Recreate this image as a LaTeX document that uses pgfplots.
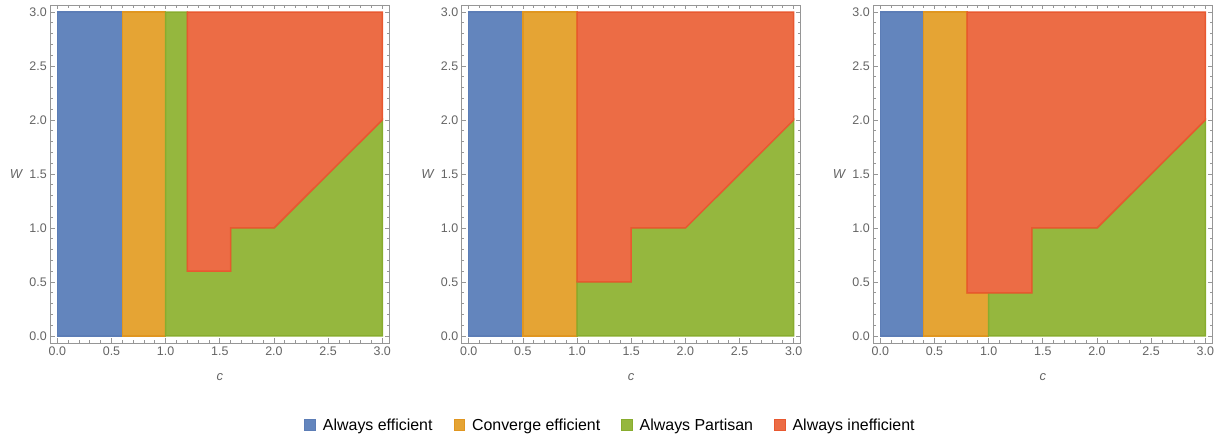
\documentclass[border=0pt]{standalone}
\usepackage{pgfplots}
\pgfplotsset{compat=1.18}
\usepackage{fontspec}
\setmainfont{Liberation Sans}
\definecolor{bluef}{RGB}{99,133,189}
\definecolor{blued}{RGB}{92,125,182}
\definecolor{orangef}{RGB}{229,164,52}
\definecolor{oranged}{RGB}{224,150,32}
\definecolor{greenf}{RGB}{149,183,62}
\definecolor{greend}{RGB}{136,172,46}
\definecolor{redf}{RGB}{236,108,69}
\definecolor{redd}{RGB}{232,88,48}
\definecolor{framec}{RGB}{150,150,150}
\definecolor{labelc}{RGB}{100,100,100}

\pgfplotsset{
  panel/.style={
    scale only axis, width=339bp, height=338bp, anchor=south west,
    xmin=-0.065, xmax=3.065, ymin=-0.065, ymax=3.065,
    xtick={0,0.5,...,3}, ytick={0,0.5,...,3},
    minor tick num=4, tick pos=both, tick align=inside,
    major tick length=4.5bp, minor tick length=2.6bp,
    axis line style={framec, line width=0.8bp},
    every tick/.style={framec, line width=0.7bp},
    /pgf/number format/assume math mode=true,
    /pgf/number format/.cd, fixed, fixed zerofill, precision=1, /pgfplots/.cd,
    tick label style={font=\fontsize{12.5}{14}\selectfont, text=labelc},
    xlabel={c}, ylabel={W},
    label style={font=\fontsize{13}{15}\selectfont\itshape, text=labelc},
    x label style={at={(axis description cs:0.5,-0.1006)}, anchor=center},
    y label style={at={(axis description cs:-0.101,0.5)}, anchor=center, rotate=-90},
  },
  reg/.style={line width=1.5bp, line join=miter},
}

\begin{document}
\begin{tikzpicture}[x=1bp,y=1bp]
\useasboundingbox (0,0) rectangle (1224,438);

% panel 1
\begin{axis}[panel, at={(50.3bp,95bp)}]
\addplot[reg, fill=bluef, draw=blued] coordinates {(0,0) (0.6,0) (0.6,3) (0,3)} -- cycle;
\addplot[reg, fill=orangef, draw=oranged] coordinates {(0.6,0) (1,0) (1,3) (0.6,3)} -- cycle;
\addplot[reg, fill=greenf, draw=greend] coordinates {(1,0) (3,0) (3,2) (2,1) (1.6,1) (1.6,0.6) (1.2,0.6) (1.2,3) (1,3)} -- cycle;
\addplot[reg, fill=redf, draw=redd] coordinates {(1.2,0.6) (1.6,0.6) (1.6,1) (2,1) (3,2) (3,3) (1.2,3)} -- cycle;
\end{axis}

% panel 2
\begin{axis}[panel, at={(461.7bp,95bp)},
  legend columns=4,
  legend style={at={(0.439,-0.2426)}, anchor=center, draw=none, fill=none,
    font=\fontsize{16}{18}\selectfont, text=black,
    /tikz/every even column/.append style={column sep=19bp},
    /tikz/every odd column/.append style={column sep=5bp}},
  legend image code/.code={\draw[#1,line width=0.8bp] (0bp,-5.3bp) rectangle (10.7bp,5.3bp);},
]
\addplot[reg, fill=bluef, draw=blued] coordinates {(0,0) (0.5,0) (0.5,3) (0,3)} -- cycle;
\addlegendentry{Always efficient}
\addplot[reg, fill=orangef, draw=oranged] coordinates {(0.5,0) (1,0) (1,3) (0.5,3)} -- cycle;
\addlegendentry{Converge efficient}
\addplot[reg, fill=greenf, draw=greend] coordinates {(1,0) (3,0) (3,2) (2,1) (1.5,1) (1.5,0.5) (1,0.5)} -- cycle;
\addlegendentry{Always Partisan}
\addplot[reg, fill=redf, draw=redd] coordinates {(1,0.5) (1.5,0.5) (1.5,1) (2,1) (3,2) (3,3) (1,3)} -- cycle;
\addlegendentry{Always inefficient}
\end{axis}

% panel 3
\begin{axis}[panel, at={(873.3bp,95bp)}]
\addplot[reg, fill=bluef, draw=blued] coordinates {(0,0) (0.4,0) (0.4,3) (0,3)} -- cycle;
\addplot[reg, fill=orangef, draw=oranged] coordinates {(0.4,0) (1,0) (1,0.4) (0.8,0.4) (0.8,3) (0.4,3)} -- cycle;
\addplot[reg, fill=greenf, draw=greend] coordinates {(1,0) (3,0) (3,2) (2,1) (1.4,1) (1.4,0.4) (1,0.4)} -- cycle;
\addplot[reg, fill=redf, draw=redd] coordinates {(0.8,0.4) (1.4,0.4) (1.4,1) (2,1) (3,2) (3,3) (0.8,3)} -- cycle;
\end{axis}
\end{tikzpicture}
\end{document}
